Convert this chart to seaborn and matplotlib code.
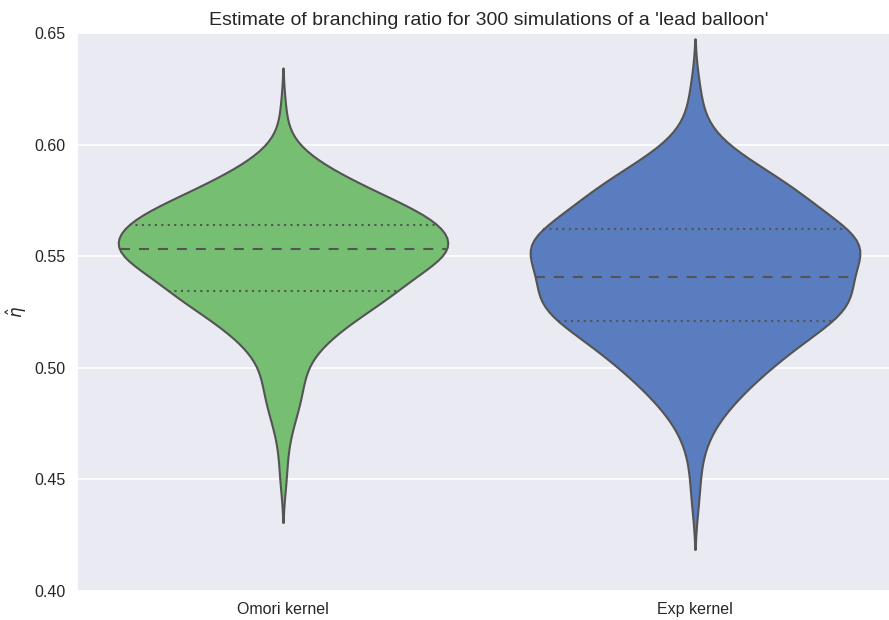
import matplotlib
matplotlib.use("Agg")
import matplotlib.pyplot as plt
import numpy as np
import pandas as pd
import seaborn as sns

# ------------------------------------------------------------
# branching ratio estimates, 300 runs per kernel (value -> runs)
# ------------------------------------------------------------
kernel_names = ["Omori kernel", "Exp kernel"]
kernel_colors = ["#6ACC65", "#4878CF"]

omori_vals = [0.448, 0.457, 0.465, 0.471, 0.476, 0.481, 0.486, 0.491, 0.496, 0.501,
              0.506, 0.511, 0.516, 0.521, 0.526, 0.531, 0.5346, 0.540, 0.545, 0.550,
              0.5531, 0.558, 0.564, 0.569, 0.574, 0.579, 0.584, 0.589, 0.594, 0.598,
              0.606, 0.617]
omori_counts = [1, 1, 1, 1, 2, 2, 3, 3, 3, 3,
                4, 6, 8, 10, 12, 14, 16, 18, 20, 21,
                23, 24, 30, 20, 17, 13, 10, 7, 3, 2,
                1, 1]

exp_vals = [0.439, 0.449, 0.458, 0.465, 0.471, 0.476, 0.481, 0.486, 0.491, 0.496,
            0.501, 0.506, 0.511, 0.516, 0.521, 0.526, 0.531, 0.536, 0.5408, 0.546,
            0.551, 0.5555, 0.559, 0.5622, 0.567, 0.572, 0.577, 0.582, 0.587, 0.592,
            0.597, 0.602, 0.607, 0.612, 0.620, 0.627]
exp_counts = [1, 1, 1, 1, 2, 2, 3, 5, 5, 7,
              8, 10, 11, 12, 15, 18, 18, 16, 15, 16,
              17, 19, 13, 11, 13, 13, 12, 11, 8, 6,
              4, 2, 1, 1, 1, 1]

y_ticks = [0.40, 0.45, 0.50, 0.55, 0.60, 0.65]

df = pd.DataFrame({
    "kernel": np.repeat(kernel_names, [sum(omori_counts), sum(exp_counts)]),
    "eta": np.concatenate([np.repeat(omori_vals, omori_counts),
                           np.repeat(exp_vals, exp_counts)]),
})

# ------------------------------------------------------------
# plot
# ------------------------------------------------------------
sns.set_theme(style="darkgrid")
plt.rcParams["font.family"] = ["Liberation Sans", "DejaVu Sans"]
plt.rcParams["text.color"] = "#262626"
plt.rcParams["axes.labelcolor"] = "#262626"

fig = plt.figure(figsize=(8.89, 6.2), dpi=100)
ax = fig.add_axes([77 / 889, 29 / 620, 824 / 889, 558 / 620])

sns.violinplot(data=df, x="kernel", y="eta", hue="kernel", order=kernel_names,
               hue_order=kernel_names, palette=kernel_colors, inner="quart",
               density_norm="width", width=0.8, linewidth=1.5, linecolor="#545454",
               legend=False, ax=ax)

# quartiles dotted, median dashed
for i, line in enumerate(ax.lines):
    line.set_linewidth(1.5)
    if i % 3 == 1:
        line.set_dashes((4.8, 4.3))
    else:
        line.set_dashes((1.0, 2.1))

ax.set_ylim(0.40, 0.65)
ax.set_yticks(y_ticks)
ax.set_yticklabels([f"{t:.2f}" for t in y_ticks])
ax.set_xlim(-0.5, 1.5)
ax.tick_params(axis="both", labelsize=11.5, length=2, color="#cccccc", pad=6)
ax.grid(axis="y", color="white", linewidth=1.3)
ax.grid(axis="x", visible=False)
ax.set_xlabel("")
ax.set_ylabel(r"$\hat{\eta}$", fontsize=12)
ax.set_title("Estimate of branching ratio for 300 simulations of a 'lead balloon'",
             fontsize=14)

fig.savefig("out.png", dpi=100)
